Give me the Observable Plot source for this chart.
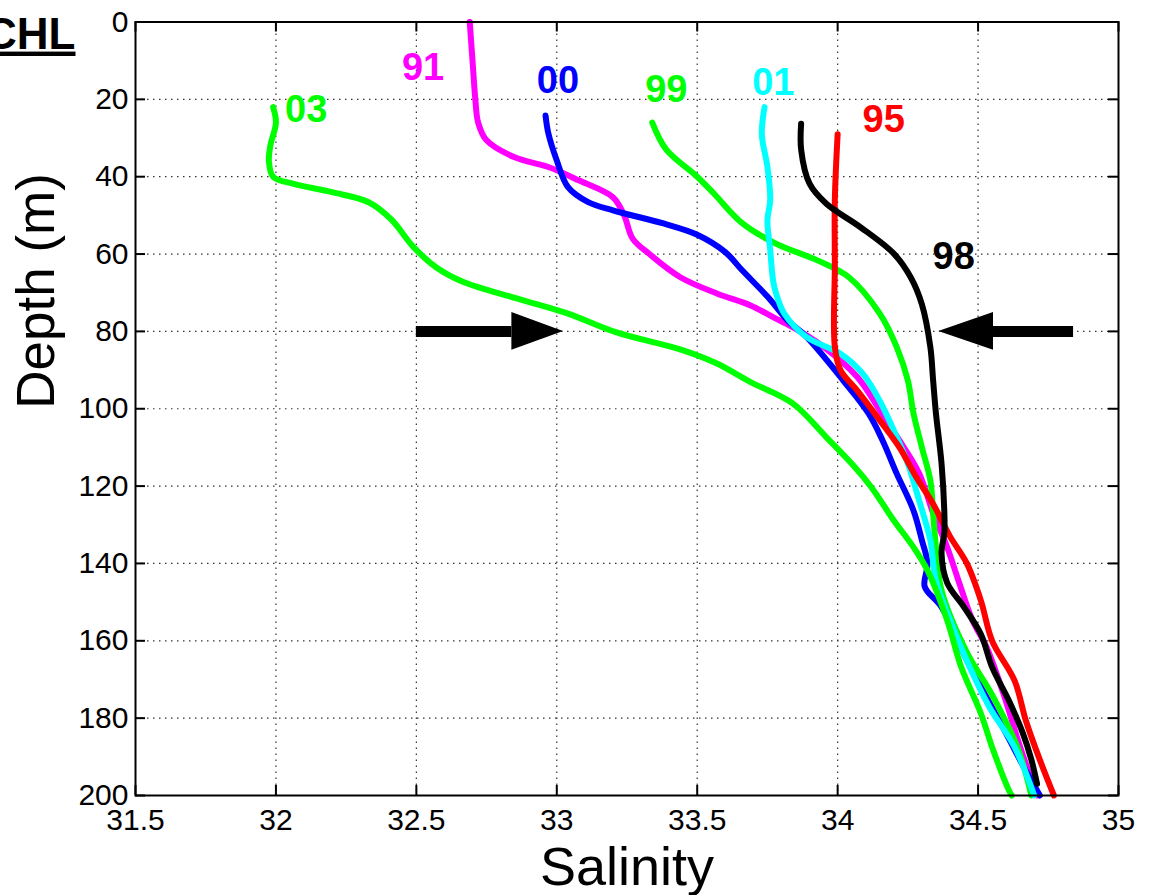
<!DOCTYPE html>
<html>
<head>
<meta charset="utf-8">
<script src="https://cdn.jsdelivr.net/npm/d3@7"></script>
<script src="https://cdn.jsdelivr.net/npm/@observablehq/plot@0.6"></script>
<style>
  html, body { margin: 0; padding: 0; background: #fff; overflow: hidden; }
  #chart { width: 1152px; height: 895px; }
</style>
</head>
<body>
<div id="chart"></div>
<script>
// ---- Data (salinity, depth m) ----
const salinityTicks = [31.5, 32, 32.5, 33, 33.5, 34, 34.5, 35];
const depthTicks = [0, 20, 40, 60, 80, 100, 120, 140, 160, 180, 200];

const years = ["91", "00", "99", "01", "95", "98", "03"];
const colors = ["#ff00ff", "#0000ff", "#00ff00", "#00ffff", "#ff0000", "#000000", "#00ff00"];

const profile91 = [[32.69,0],[32.70,10],[32.71,20],[32.72,26],[32.75,30.6],[32.85,35],[32.97,37.5],[33.08,41],[33.2,45.3],[33.24,50],[33.27,56],[33.33,60],[33.44,66],[33.57,70.2],[33.69,73.3],[33.77,76.3],[33.84,78.9],[33.95,84],[34.07,91.8],[34.15,100.4],[34.22,108.2],[34.29,116.7],[34.34,127],[34.39,135.8],[34.43,144.4],[34.48,154.7],[34.53,161.6],[34.59,173.6],[34.65,187.5],[34.71,200]];
const profile00 = [[32.96,24.2],[32.97,28.8],[33.0,35.8],[33.04,42.7],[33.11,46.5],[33.2,48.7],[33.38,52.1],[33.5,55],[33.6,59.5],[33.66,64.2],[33.75,71],[33.82,77],[33.89,81.5],[34.02,92.7],[34.11,101.2],[34.16,108.2],[34.21,116.7],[34.27,126.3],[34.3,134],[34.32,140],[34.31,146],[34.37,151.3],[34.46,165],[34.53,174.6],[34.6,184],[34.67,193.6],[34.72,200]];
const profile99 = [[33.34,26],[33.39,33],[33.5,40],[33.56,44.4],[33.66,52],[33.78,57.3],[33.93,61.7],[34.04,66],[34.15,75.4],[34.21,84],[34.25,92.7],[34.27,101.2],[34.3,110],[34.33,118.5],[34.34,127],[34.35,135.8],[34.37,147],[34.46,163],[34.55,174],[34.64,187.5],[34.69,200]];
const profile01 = [[33.74,22],[33.73,29],[33.75,37.5],[33.76,46],[33.75,51.3],[33.76,59],[33.77,66.8],[33.78,70],[33.81,75.4],[33.89,81.5],[34.01,85.8],[34.09,91],[34.15,98],[34.2,105.6],[34.25,114.2],[34.29,123.7],[34.33,134],[34.35,144.4],[34.41,156.4],[34.47,166.8],[34.54,177.1],[34.63,187.5],[34.7,200]];
const profile95 = [[34.0,29],[33.99,46],[33.99,63],[33.99,84],[34.01,90],[34.07,95.3],[34.15,103],[34.22,110],[34.28,117.7],[34.34,124.6],[34.4,133],[34.46,140],[34.51,149.6],[34.55,160],[34.63,170.3],[34.67,180.6],[34.72,190.8],[34.77,200]];
const profile98 = [[33.87,26.3],[33.87,33],[33.9,41.8],[33.96,47],[34.08,53],[34.2,59.9],[34.26,66],[34.3,73],[34.33,84],[34.34,92.7],[34.35,101.2],[34.37,114.2],[34.38,127],[34.38,132],[34.37,137.4],[34.39,145],[34.45,151.3],[34.51,158.3],[34.55,166.8],[34.61,175.5],[34.66,184],[34.69,190.8],[34.71,197]];
const profile03 = [[31.99,22],[32.0,26],[31.98,32],[31.975,36],[31.99,40],[32.06,41.8],[32.2,44],[32.33,46.6],[32.41,51],[32.49,58.2],[32.57,63.4],[32.67,67.3],[32.86,71.5],[33.04,75.4],[33.21,80.2],[33.45,84.9],[33.57,88.3],[33.69,93.1],[33.84,98.6],[33.96,107.4],[34.06,115],[34.12,120.3],[34.2,128.9],[34.27,135.8],[34.32,141.8],[34.39,154.7],[34.44,166.8],[34.51,178.8],[34.55,187.5],[34.61,198.7],[34.62,200]];
const profiles = [profile91, profile00, profile99, profile01, profile95, profile98, profile03];

// label anchor positions (salinity, depth)
const labelSalinity = [32.524, 33.004, 33.39, 33.771, 34.164, 34.413, 32.108];
const labelDepth = [11.9, 15.3, 17.5, 15.8, 25.4, 60.8, 22.7];

// arrows marking ~80 m: [tail, head base, tip] salinity, at depth 80
const arrowDepth = 80;
const arrowHalfHead = 4.9;
const arrowLeft = [32.5, 32.84, 33.024];
const arrowRight = [34.84, 34.555, 34.36];

// ---- Build tables ----
const rows = [];
years.forEach((yr, i) => profiles[i].forEach(([s, d]) => rows.push({year: yr, salinity: s, depth: d})));
const labels = years.map((yr, i) => ({year: yr, salinity: labelSalinity[i], depth: labelDepth[i], color: colors[i]}));
const headOf = (a) => [
  {x: a[1], y1: arrowDepth - arrowHalfHead, y2: arrowDepth + arrowHalfHead},
  {x: a[2], y1: arrowDepth, y2: arrowDepth}
];

const W = 1152, H = 895;
const mL = 135, mR = 34, mT = 21.5, mB = 100;
const plotW = W - mL - mR, plotH = H - mT - mB;
const inner = 10; // tick length, px
const gridStyle = {stroke: "#333", strokeWidth: 1.2, strokeDasharray: "1.5,4.5"};
const font = "'Liberation Sans', Arial, Helvetica, sans-serif";

const chart = Plot.plot({
  width: W, height: H,
  marginLeft: mL, marginRight: mR, marginTop: mT, marginBottom: mB,
  style: {fontFamily: font, fontSize: "30px", color: "#000", background: "#fff", overflow: "visible"},
  x: {domain: [31.5, 35], ticks: salinityTicks, tickFormat: d => `${d}`, tickSize: 0, tickPadding: 13, label: null},
  y: {domain: [0, 200], reverse: true, ticks: depthTicks, tickFormat: d => `${d}`, tickSize: 0, tickPadding: 7, label: null},
  color: {domain: years, range: colors},
  marks: [
    // dotted grid
    Plot.ruleX(salinityTicks.slice(1, -1), gridStyle),
    Plot.ruleY(depthTicks.slice(1, -1), gridStyle),
    // inward ticks on all four sides
    Plot.tickX(salinityTicks, {stroke: "#000", strokeWidth: 2, insetTop: plotH - inner}),
    Plot.tickX(salinityTicks, {stroke: "#000", strokeWidth: 2, insetBottom: plotH - inner}),
    Plot.tickY(depthTicks, {stroke: "#000", strokeWidth: 2, insetRight: plotW - inner}),
    Plot.tickY(depthTicks, {stroke: "#000", strokeWidth: 2, insetLeft: plotW - inner}),
    // profiles
    Plot.line(rows, {x: "salinity", y: "depth", z: "year", stroke: "year", strokeWidth: 6, curve: "catmull-rom", strokeLinejoin: "round"}),
    // year labels
    Plot.text(labels, {x: "salinity", y: "depth", text: "year", fill: "color", fontSize: 38, fontWeight: "bold", textAnchor: "middle", lineAnchor: "middle"}),
    // arrows
    Plot.ruleY([arrowDepth], {x1: arrowLeft[0], x2: arrowLeft[1], stroke: "#000", strokeWidth: 11}),
    Plot.areaY(headOf(arrowLeft), {x: "x", y1: "y1", y2: "y2", fill: "#000"}),
    Plot.ruleY([arrowDepth], {x1: arrowRight[0], x2: arrowRight[1], stroke: "#000", strokeWidth: 11}),
    Plot.areaY(headOf(arrowRight), {x: "x", y1: "y1", y2: "y2", fill: "#000"}),
    // frame
    Plot.frame({stroke: "#000", strokeWidth: 2}),
    // axis titles
    Plot.text(["Salinity"], {frameAnchor: "bottom", dy: 72, fontSize: 54, lineAnchor: "middle", fill: "#000"}),
    Plot.text(["Depth (m)"], {frameAnchor: "left", dx: -98, rotate: -90, fontSize: 53, lineAnchor: "middle", fill: "#000"}),
    Plot.text(["CHL"], {frameAnchor: "top-left", dx: -60, dy: 12.5, textAnchor: "end", lineAnchor: "middle", fontSize: 44, fontWeight: "bold", fill: "#000"})
  ]
});

chart.querySelectorAll("text").forEach(t => {
  if (t.textContent === "CHL") t.setAttribute("text-decoration", "underline");
});
document.getElementById("chart").appendChild(chart);
</script>
</body>
</html>
